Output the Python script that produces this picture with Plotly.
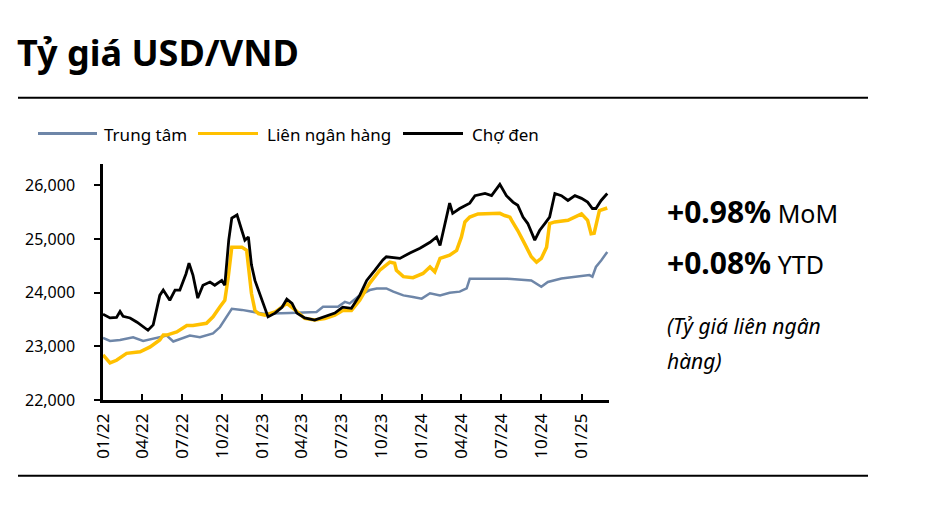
import plotly.graph_objects as go

# ---------------- data ----------------
black_dates = ["2022-01-01","2022-01-10","2022-01-17","2022-02-01","2022-02-09","2022-02-16","2022-03-04","2022-03-20",
    "2022-03-27","2022-04-14","2022-04-26","2022-05-04","2022-05-11","2022-05-19","2022-06-03","2022-06-15",
    "2022-06-26","2022-07-10","2022-07-17","2022-07-26","2022-08-06","2022-08-18","2022-09-03","2022-09-14",
    "2022-09-30","2022-10-07","2022-10-16","2022-10-23","2022-11-04","2022-11-15","2022-11-22","2022-11-30",
    "2022-12-07","2022-12-15","2022-12-23","2022-12-30","2023-01-07","2023-01-14","2023-01-30","2023-02-15",
    "2023-02-26","2023-03-10","2023-03-21","2023-04-08","2023-05-01","2023-05-24","2023-06-16","2023-07-04",
    "2023-07-24","2023-08-12","2023-08-28","2023-09-16","2023-10-04","2023-10-12","2023-11-12","2023-12-05",
    "2023-12-28","2024-01-20","2024-02-04","2024-02-12","2024-02-23","2024-03-05","2024-03-12","2024-03-28",
    "2024-04-20","2024-05-02","2024-05-25","2024-06-09","2024-06-28","2024-07-13","2024-07-28","2024-08-08",
    "2024-08-20","2024-08-31","2024-09-16","2024-09-27","2024-10-09","2024-10-20","2024-11-01","2024-11-16",
    "2024-12-01","2024-12-17","2025-01-01","2025-01-15","2025-01-26","2025-02-03","2025-02-15","2025-03-01"]
black_vals = [23600,23560,23530,23540,23650,23560,23530,23450,
    23410,23300,23400,23700,23950,24050,23860,24050,
    24050,24350,24550,24330,23900,24140,24200,24140,
    24230,24140,24980,25390,25450,25160,24980,25040,
    24520,24230,24050,23860,23680,23550,23620,23730,
    23880,23800,23620,23530,23490,23550,23620,23730,
    23710,23950,24230,24420,24610,24670,24640,24740,
    24830,24940,25040,24880,25260,25670,25480,25570,
    25670,25810,25850,25810,26020,25810,25690,25630,
    25410,25290,24980,25160,25290,25410,25850,25810,
    25720,25810,25760,25690,25570,25570,25720,25850]

yellow_dates = ["2022-01-01","2022-01-17","2022-02-01","2022-02-24","2022-03-27","2022-04-19","2022-05-11","2022-05-19",
    "2022-05-27","2022-06-19","2022-07-12","2022-07-26","2022-08-26","2022-09-10","2022-09-26","2022-10-07",
    "2022-10-15","2022-10-23","2022-11-15","2022-11-26","2022-12-07","2022-12-15","2022-12-23","2023-01-07",
    "2023-01-30","2023-02-26","2023-03-17","2023-04-08","2023-05-01","2023-05-24","2023-06-16","2023-07-04",
    "2023-07-24","2023-08-12","2023-09-04","2023-09-27","2023-10-20","2023-10-31","2023-11-04","2023-11-20",
    "2023-12-12","2024-01-04","2024-01-20","2024-01-31","2024-02-12","2024-03-05","2024-03-21","2024-04-01",
    "2024-04-09","2024-04-20","2024-05-09","2024-05-28","2024-06-28","2024-07-09","2024-07-21","2024-07-25",
    "2024-08-08","2024-08-24","2024-09-08","2024-09-20","2024-10-01","2024-10-13","2024-10-20","2024-11-01",
    "2024-12-01","2025-01-01","2025-01-15","2025-01-23","2025-01-30","2025-02-11","2025-03-01"]
yellow_vals = [22840,22690,22740,22870,22900,22990,23120,23210,
    23210,23270,23390,23390,23430,23550,23740,23860,
    24300,24850,24850,24790,23990,23670,23610,23580,
    23640,23800,23680,23520,23490,23520,23580,23670,
    23670,23860,24180,24420,24570,24550,24420,24300,
    24280,24360,24480,24390,24640,24700,24790,25040,
    25320,25410,25470,25480,25480,25440,25410,25350,
    25160,24910,24670,24570,24640,24850,25290,25320,
    25350,25470,25350,25100,25110,25530,25580]

blue_dates = ["2022-01-01","2022-01-17","2022-02-09","2022-03-11","2022-04-03","2022-05-04","2022-05-27","2022-06-11",
    "2022-07-19","2022-08-11","2022-09-10","2022-09-26","2022-10-15","2022-10-23","2022-11-15","2023-01-03",
    "2023-03-05","2023-05-05","2023-05-20","2023-06-23","2023-07-09","2023-07-20","2023-08-12","2023-09-04",
    "2023-09-20","2023-10-12","2023-10-28","2023-11-20","2023-12-12","2024-01-01","2024-01-20","2024-02-12",
    "2024-03-05","2024-03-28","2024-04-13","2024-04-20","2024-07-16","2024-09-08","2024-10-01","2024-10-16",
    "2024-11-16","2024-12-17","2025-01-19","2025-01-26","2025-02-03","2025-02-15","2025-03-01"]
blue_vals = [23160,23100,23120,23170,23100,23150,23200,23090,
    23200,23170,23240,23360,23610,23700,23680,23610,
    23620,23640,23740,23740,23830,23800,23950,24050,
    24080,24080,24020,23950,23920,23890,23990,23950,
    24000,24020,24080,24260,24260,24230,24110,24200,
    24265,24290,24330,24300,24480,24600,24760]

tick_dates = ["2022-01-01","2022-04-01","2022-07-01","2022-10-01","2023-01-01","2023-04-01","2023-07-01",
              "2023-10-01","2024-01-01","2024-04-01","2024-07-01","2024-10-01","2025-01-01"]
tick_labels = ["01/22","04/22","07/22","10/22","01/23","04/23","07/23","10/23","01/24","04/24","07/24","10/24","01/25"]
y_ticks = [22000, 23000, 24000, 25000, 26000]

series_names = ["Trung tâm", "Liên ngân hàng", "Chợ đen"]
colors = ["#6E86A8", "#FFC000", "#000000"]

# ---------------- figure ----------------
W, H = 927, 505
L, R, T, B = 103, 609, 163.5, 400  # plot box in pixels

def px(x):
    return (x - L) / (R - L)

def py(y):
    return (B - y) / (B - T)

FONT = "Noto Sans"
fig = go.Figure()
fig.add_trace(go.Scatter(x=blue_dates, y=blue_vals, mode="lines", name=series_names[0],
                         line=dict(color=colors[0], width=2.5), showlegend=False))
fig.add_trace(go.Scatter(x=yellow_dates, y=yellow_vals, mode="lines", name=series_names[1],
                         line=dict(color=colors[1], width=3.5), showlegend=False))
fig.add_trace(go.Scatter(x=black_dates, y=black_vals, mode="lines", name=series_names[2],
                         line=dict(color=colors[2], width=2.8), showlegend=False))

fig.update_layout(
    width=W, height=H,
    margin=dict(l=L, r=W - R, t=T, b=H - B),
    paper_bgcolor="white", plot_bgcolor="white",
    font=dict(family=FONT, color="black"),
    xaxis=dict(type="date", range=["2022-01-01", "2025-03-05"],
               tickvals=tick_dates, ticktext=tick_labels, tickangle=-90,
               ticks="inside", ticklen=6, tickwidth=2, tickcolor="black",
               showline=True, linecolor="black", linewidth=2.5,
               showgrid=False, zeroline=False, tickfont=dict(size=17, family=FONT),
               ticklabelstandoff=4),
    yaxis=dict(range=[22000, 26400], tickvals=y_ticks, tickformat=",d",
               ticks="outside", ticklen=6, tickwidth=2, tickcolor="black",
               showline=True, linecolor="black", linewidth=2.5,
               showgrid=False, zeroline=False, tickfont=dict(size=16, family=FONT),
               ticklabelstandoff=16),
    yaxis2=dict(range=[22000, 26400], overlaying="y", tickvals=y_ticks,
                ticks="inside", ticklen=6, tickwidth=2, tickcolor="black",
                showticklabels=False, showline=False, showgrid=False, zeroline=False),
)

# title
fig.add_annotation(text="<b>Tỷ giá USD/VND</b>", xref="paper", yref="paper",
                   x=px(15), y=py(52), xanchor="left", yanchor="middle", showarrow=False,
                   font=dict(size=36, family=FONT, color="black"))

# horizontal rules
for yy in (97, 476):
    fig.add_shape(type="line", xref="paper", yref="paper", x0=px(18), x1=px(868),
                  y0=py(yy), y1=py(yy), line=dict(color="black", width=2))

# manual legend
leg = [(38, 97, 104), (198, 258, 267), (403, 463, 472)]
for (x0, x1, xt), nm, c in zip(leg, series_names, colors):
    fig.add_shape(type="line", xref="paper", yref="paper", x0=px(x0), x1=px(x1),
                  y0=py(133), y1=py(133), line=dict(color=c, width=3))
    fig.add_annotation(text=nm, xref="paper", yref="paper", x=px(xt - 2), y=py(134),
                       xanchor="left", yanchor="middle", showarrow=False,
                       font=dict(size=17, family=FONT, color="black"))

# right side text
fig.add_annotation(text="<b>+0.98%</b><span style='font-size:25px'> MoM</span>",
                   xref="paper", yref="paper", x=px(665), y=py(211),
                   xanchor="left", yanchor="middle", showarrow=False,
                   font=dict(size=30, family=FONT, color="black"))
fig.add_annotation(text="<b>+0.08%</b><span style='font-size:25px'> YTD</span>",
                   xref="paper", yref="paper", x=px(665), y=py(262),
                   xanchor="left", yanchor="middle", showarrow=False,
                   font=dict(size=30, family=FONT, color="black"))
fig.add_annotation(text="<i>(Tỷ giá liên ngân</i>", xref="paper", yref="paper", x=px(665), y=py(326),
                   xanchor="left", yanchor="middle", showarrow=False,
                   font=dict(size=21, family=FONT, color="black"))
fig.add_annotation(text="<i>hàng)</i>", xref="paper", yref="paper", x=px(665), y=py(361),
                   xanchor="left", yanchor="middle", showarrow=False,
                   font=dict(size=21, family=FONT, color="black"))

fig.write_html("out.html", config={"displayModeBar": False},
               post_script="document.body.style.margin='0';")
